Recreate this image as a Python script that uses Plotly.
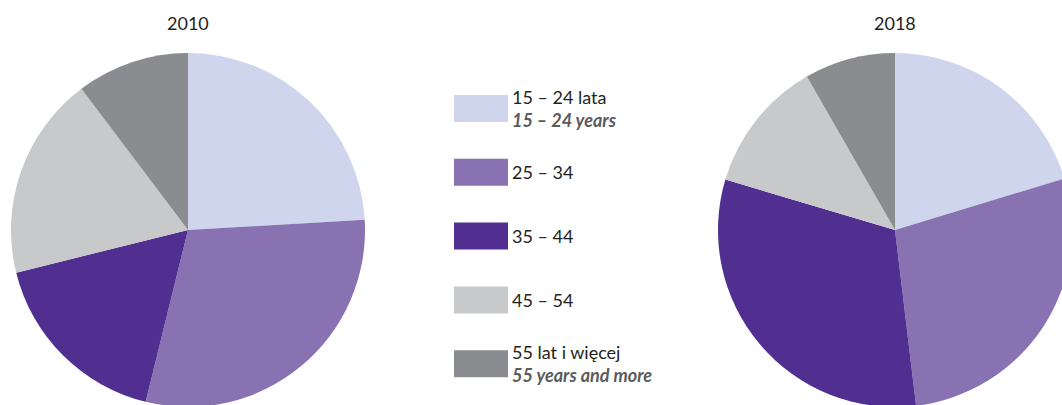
import plotly.graph_objects as go

W, H = 1073, 408

categories = ["15 – 24 lata", "25 – 34", "35 – 44", "45 – 54", "55 lat i więcej"]
categories_en = ["15 – 24 years", "", "", "", "55 years and more"]
colors = ["#CFD5EC", "#8872B2", "#512F91", "#C8C9CB", "#8B8C8F"]

years = ["2010", "2018"]
values_2010 = [24.1, 29.8, 17.3, 18.6, 10.3]
values_2018 = [20.3, 27.8, 31.5, 12.1, 8.3]

FONT = "Lato"
TXT = "#231F20"
SUB = "#5A5B5D"


def px_x(x):
    return x / W


def px_y(y):
    return (H - y) / H


R = 177
centers = [(188, 230), (895, 230)]

fig = go.Figure()
for yr, vals, (cx, cy) in zip(years, [values_2010, values_2018], centers):
    x0, x1 = px_x(cx - R), px_x(cx + R)
    y0, y1 = px_y(cy + R), px_y(cy - R)
    fig.add_trace(go.Pie(
        labels=categories, values=vals, name=yr,
        marker=dict(colors=colors, line=dict(width=0)),
        sort=False, direction="clockwise", rotation=0,
        textinfo="none", showlegend=False,
        domain=dict(x=[max(0.0, x0), min(1.0, x1)],
                    y=[max(0.0, y0), min(1.0, y1)]),
    ))

annotations = []
shapes = []

# titles
for yr, (cx, _) in zip(years, centers):
    annotations.append(dict(
        text=yr, x=px_x(cx), y=px_y(23), xref="paper", yref="paper",
        xanchor="center", yanchor="middle", showarrow=False,
        font=dict(family=FONT, size=18, color=TXT),
    ))

# legend (swatches + labels)
sw_x0, sw_x1 = 454, 508
sw_h = 27
first_top = 95
step = 63.8
for i, (cat, en, col) in enumerate(zip(categories, categories_en, colors)):
    top = first_top + i * step
    cy = top + sw_h / 2
    shapes.append(dict(
        type="rect", xref="paper", yref="paper",
        x0=px_x(sw_x0), x1=px_x(sw_x1), y0=px_y(top), y1=px_y(top + sw_h),
        fillcolor=col, line=dict(width=0),
    ))
    label = cat
    if en:
        label = f"{cat}<br><span style='color:{SUB}'><b><i>{en}</i></b></span>"
    annotations.append(dict(
        text=label, x=px_x(510), y=px_y(cy), xref="paper", yref="paper",
        xanchor="left", yanchor="middle", align="left", showarrow=False,
        font=dict(family=FONT, size=18, color=TXT),
    ))

fig.update_layout(
    width=W, height=H,
    margin=dict(l=0, r=0, t=0, b=0),
    paper_bgcolor="white", plot_bgcolor="white",
    annotations=annotations, shapes=shapes,
    font=dict(family=FONT),
)

page_css = (
    "document.documentElement.style.margin='0';"
    "document.documentElement.style.overflow='hidden';"
    "document.body.style.margin='0';"
    "document.body.style.overflow='hidden';"
)
fig.write_html("out.html", post_script=page_css,
               config={"displayModeBar": False})
